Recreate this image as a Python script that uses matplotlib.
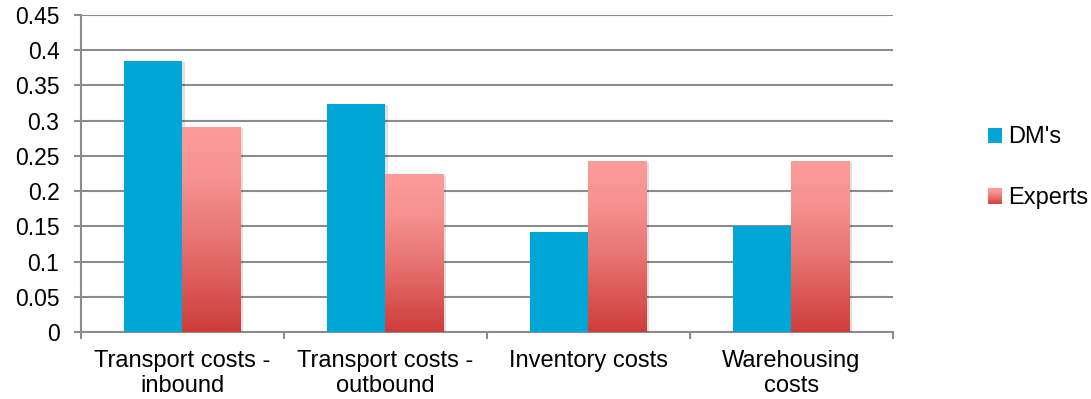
import numpy as np
import matplotlib.pyplot as plt
import matplotlib.patheffects as pe
from matplotlib.colors import LinearSegmentedColormap
from matplotlib.patches import Rectangle, Patch
from matplotlib.legend_handler import HandlerBase

plt.rcParams['font.family'] = ['Liberation Sans', 'DejaVu Sans']

categories = ['Transport costs -\ninbound', 'Transport costs -\noutbound',
              'Inventory costs', 'Warehousing\ncosts']
dms = [0.385, 0.324, 0.1415, 0.151]
experts = [0.291, 0.224, 0.243, 0.243]
yticks = [0, 0.05, 0.1, 0.15, 0.2, 0.25, 0.3, 0.35, 0.4, 0.45]

blue = '#00A6D6'
grid_grey = '#8C8C8C'
pink_cmap = LinearSegmentedColormap.from_list(
    'pink', [(0.0, '#CE3D3B'), (0.45, '#E77573'), (0.75, '#F69290'), (1.0, '#FC9C9A')])

fig = plt.figure(figsize=(10.91, 3.99), dpi=100)
ax = fig.add_axes([0.0742, 0.1679, 0.7443, 0.7945])

shadow = [pe.SimplePatchShadow(offset=(1.5, -1), shadow_rgbFace='#000000', alpha=0.12), pe.Normal()]

x = np.arange(len(categories))
w = 0.288
ax.bar(x - w / 2, dms, w, color=blue, zorder=3, path_effects=shadow)
pink_bars = ax.bar(x + w / 2, experts, w, color='#F08A88', zorder=3, path_effects=shadow)

# vertical gradient inside each Experts bar
grad = np.linspace(0, 1, 256).reshape(-1, 1)
for b in pink_bars:
    x0, y1 = b.get_x(), b.get_height()
    im = ax.imshow(grad, cmap=pink_cmap, origin='lower', aspect='auto',
                   extent=(x0, x0 + b.get_width(), 0, y1), zorder=3.5)
    im.set_clip_path(b)

ax.set_xlim(-0.5, len(categories) - 0.5)
ax.set_ylim(0, 0.45)
ax.set_yticks(yticks)
ax.set_yticklabels(['0' if t == 0 else ('%g' % t) for t in yticks])
ax.yaxis.grid(True, color=grid_grey, linewidth=1.5, zorder=0)
ax.set_axisbelow(True)

# category labels sit between the boundary ticks
ax.set_xticks(np.arange(len(categories) + 1) - 0.5)
ax.set_xticklabels([])
ax.set_xticks(x, minor=True)
ax.set_xticklabels(categories, minor=True, fontsize=17, linespacing=1.2)
ax.tick_params(axis='x', which='minor', length=0, pad=13)
ax.tick_params(axis='x', which='major', length=5, color=grid_grey, width=1.5)
ax.tick_params(axis='y', length=5, color=grid_grey, width=1.5, labelsize=16.5, pad=10.5)

for s in ['top', 'right']:
    ax.spines[s].set_visible(False)
for s in ['left', 'bottom']:
    ax.spines[s].set_color(grid_grey)
    ax.spines[s].set_linewidth(1.5)


class GradientHandler(HandlerBase):
    def create_artists(self, legend, orig_handle, xdescent, ydescent,
                       width, height, fontsize, trans):
        n = 8
        arts = []
        for i in range(n):
            arts.append(Rectangle((-xdescent, -ydescent + height * i / n), width, height / n + 0.3,
                                  facecolor=pink_cmap((i + 0.5) / n), edgecolor='none',
                                  transform=trans))
        return arts


h1 = Patch(facecolor=blue)
h2 = Patch(facecolor='#E77573')
fig.legend([h1, h2], ["DM's", 'Experts'], loc='center left',
           bbox_to_anchor=(0.906, 0.579), frameon=False, fontsize=17,
           handlelength=0.59, handleheight=0.59, handletextpad=0.25,
           labelspacing=1.65, borderpad=0, borderaxespad=0,
           handler_map={h2: GradientHandler()})

fig.savefig('out.png', dpi=100)
